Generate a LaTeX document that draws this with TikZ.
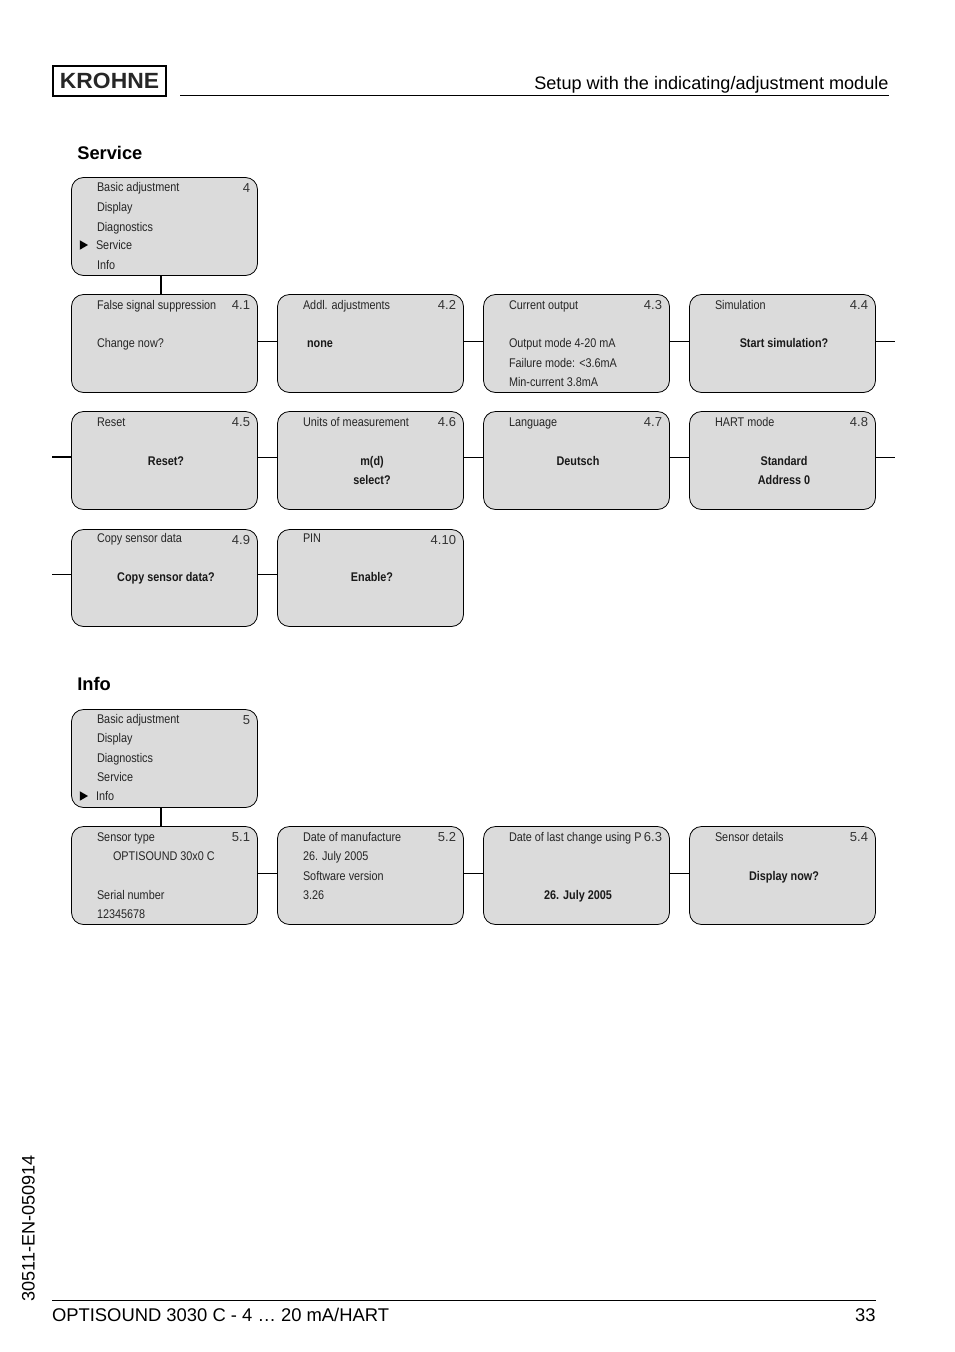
\documentclass[tikz,border=0pt]{standalone}
\usepackage{fontspec}
\setmainfont{Liberation Sans}
\newfontfamily\narrowf[FakeStretch=0.86]{Liberation Sans}
\newcounter{txtno}
\usetikzlibrary{shapes.geometric}
\tikzset{
  x=1pt,y=-1pt,
  screenbox/.style={draw=black,fill=black!14,line width=0.8pt,rounded corners=12pt,minimum width=186pt,minimum height=98pt,inner sep=0pt,outer sep=0pt,anchor=north west},
  thin link/.style={line width=0.8pt},
  thick link/.style={line width=1.6pt},
  txt/.style={inner sep=0pt,outer sep=0pt,anchor=base west,yshift=0.5pt,font=\narrowf\fontsize{12.6}{14}\selectfont,text=black!85},
  boldtxt/.style={inner sep=0pt,outer sep=0pt,anchor=base,yshift=0.5pt,font=\narrowf\bfseries\fontsize{12.6}{14}\selectfont,text=black!90},
  numtxt/.style={inner sep=0pt,outer sep=0pt,anchor=base east,font=\fontsize{13}{14}\selectfont,text=black!80},
  headtxt/.style={inner sep=0pt,outer sep=0pt,anchor=base west,font=\bfseries\fontsize{18.3}{20}\selectfont},
  pagetxt/.style={inner sep=0pt,outer sep=0pt,font=\fontsize{18.1}{20}\selectfont},
  foottxt/.style={inner sep=0pt,outer sep=0pt,font=\fontsize{18.4}{20}\selectfont},
  marker/.style={fill=black,draw=none,regular polygon,regular polygon sides=3,shape border rotate=-90,minimum size=11pt,inner sep=0pt},
}
% screen: name, x, y, number, box height
\newcommand{\scr}[5][98pt]{\node[screenbox,minimum height=#1] (#2) at (#3,#4) {};\node[numtxt] (#2n) at (#3+178.5,#4+15) {#5};}
\newcommand{\tl}[3]{\stepcounter{txtno}\node[txt] (t\thetxtno) at (#1,#2) {#3};}
\newcommand{\tb}[3]{\stepcounter{txtno}\node[boldtxt] (t\thetxtno) at (#1,#2) {#3};}
\begin{document}
\begin{tikzpicture}
\useasboundingbox (0,0) rectangle (954,1352);
% header
\node[draw=black,line width=2pt,minimum width=113pt,minimum height=30pt,inner sep=0pt,font=\bfseries\addfontfeature{FakeStretch=1.04}\fontsize{22}{24}\selectfont,text=black!85] (logo) at (109.5,81) {KROHNE};
\coordinate (hl) at (180,95.5);\coordinate (hr) at (888.5,95.5);
\draw[line width=0.8pt] (hl) -- (hr);
\node[pagetxt,anchor=base east] (title) at (888.5,89) {Setup with the indicating/adjustment module};
\node[headtxt] (service) at (77.3,159) {Service};
\node[headtxt] (info) at (77.3,690) {Info};
% service main
\scr{m4}{71.5}{177.5}{4}
\tl{97}{192}{Basic adjustment}\tl{97}{211.7}{Display}\tl{97}{231.7}{Diagnostics}\tl{96}{250}{Service}\tl{97}{269.7}{Info}
\node[marker] (mk4) at (82.5,245) {};
% row 1
\scr{a1}{71.5}{294.5}{4.1}\tl{97}{309.5}{False signal suppression}\tl{97}{347.5}{Change now?}
\scr{a2}{277.5}{294.5}{4.2}\tl{303}{309.5}{Addl. adjustments}\tb{320}{347.5}{none}
\scr{a3}{483.5}{294.5}{4.3}\tl{509}{309.5}{Current output}\tl{509}{347.5}{Output mode 4-20 mA}\tl{509}{367.5}{Failure mode: <3.6mA}\tl{509}{386.5}{Min-current 3.8mA}
\scr{a4}{689.5}{294.5}{4.4}\tl{715}{309.5}{Simulation}\tb{784}{347.5}{Start simulation?}
% row 2
\scr{b1}{71.5}{411.5}{4.5}\tl{97}{426.7}{Reset}\tb{166}{465.7}{Reset?}
\scr{b2}{277.5}{411.5}{4.6}\tl{303}{426.7}{Units of measurement}\tb{372}{465.7}{m(d)}\tb{372}{484.7}{select?}
\scr{b3}{483.5}{411.5}{4.7}\tl{509}{426.7}{Language}\tb{578}{465.7}{Deutsch}
\scr{b4}{689.5}{411.5}{4.8}\tl{715}{426.7}{HART mode}\tb{784}{465.7}{Standard}\tb{784}{484.7}{Address 0}
% row 3
\scr[97pt]{c1}{71.5}{529.5}{4.9}\tl{97}{543}{Copy sensor data}\tb{166}{582}{Copy sensor data?}
\scr[97pt]{c2}{277.5}{529.5}{4.10}\tl{303}{543}{PIN}\tb{372}{582}{Enable?}
% info main
\scr{m5}{71.5}{709.5}{5}
\tl{97}{724}{Basic adjustment}\tl{97}{743}{Display}\tl{97}{763}{Diagnostics}\tl{97}{782}{Service}\tl{96}{801}{Info}
\node[marker] (mk5) at (82.5,796) {};
% row 5
\scr{d1}{71.5}{826.5}{5.1}\tl{97}{841.7}{Sensor type}\tl{113}{860.7}{OPTISOUND 30x0 C}\tl{97}{899.7}{Serial number}\tl{97}{918.7}{12345678}
\scr{d2}{277.5}{826.5}{5.2}\tl{303}{841.7}{Date of manufacture}\tl{303}{860.7}{26. July 2005}\tl{303}{880.7}{Software version}\tl{303}{899.7}{3.26}
\scr{d3}{483.5}{826.5}{6.3}\tl{509}{841.7}{Date of last change using P}\tb{578}{899.7}{26. July 2005}
\scr{d4}{689.5}{826.5}{5.4}\tl{715}{841.7}{Sensor details}\tb{784}{880.7}{Display now?}
% connectors
\draw[thick link] (m4.south -| 161,0) -- (a1.north -| 161,0);
\draw[thick link] (m5.south -| 161,0) -- (d1.north -| 161,0);
\foreach \p/\q in {a1/a2,a2/a3,a3/a4}{\draw[thin link] ([yshift=2.5pt]\p.east) -- ([yshift=2.5pt]\q.west);}
\foreach \p/\q in {b1/b2,b2/b3,b3/b4}{\draw[thin link] ([yshift=3.5pt]\p.east) -- ([yshift=3.5pt]\q.west);}
\draw[thin link] ([yshift=3.5pt]c1.east) -- ([yshift=3.5pt]c2.west);
\foreach \p/\q in {d1/d2,d2/d3,d3/d4}{\draw[thin link] ([yshift=2.5pt]\p.east) -- ([yshift=2.5pt]\q.west);}
\coordinate (s1) at (895,341);\coordinate (s2) at (895,457);\coordinate (s3) at (52,457);\coordinate (s4) at (52,574.5);
\draw[thin link] ([yshift=2.5pt]a4.east) -- (s1);
\draw[thin link] ([yshift=3.5pt]b4.east) -- (s2);
\draw[thick link] (s3) -- ([yshift=3.5pt]b1.west);
\draw[thin link] (s4) -- ([yshift=3.5pt]c1.west);
% footer
\coordinate (fl) at (52,1300.5);\coordinate (fr) at (875.5,1300.5);
\draw[line width=0.8pt] (fl) -- (fr);
\node[foottxt,anchor=base west] (foot) at (52,1321) {OPTISOUND 3030 C - 4 … 20 mA/HART};
\node[foottxt,anchor=base east] (page) at (875.5,1321) {33};
\node[pagetxt,anchor=base west,rotate=90] (code) at (34.5,1301.5) {30511-EN-050914};
\end{tikzpicture}
\end{document}
